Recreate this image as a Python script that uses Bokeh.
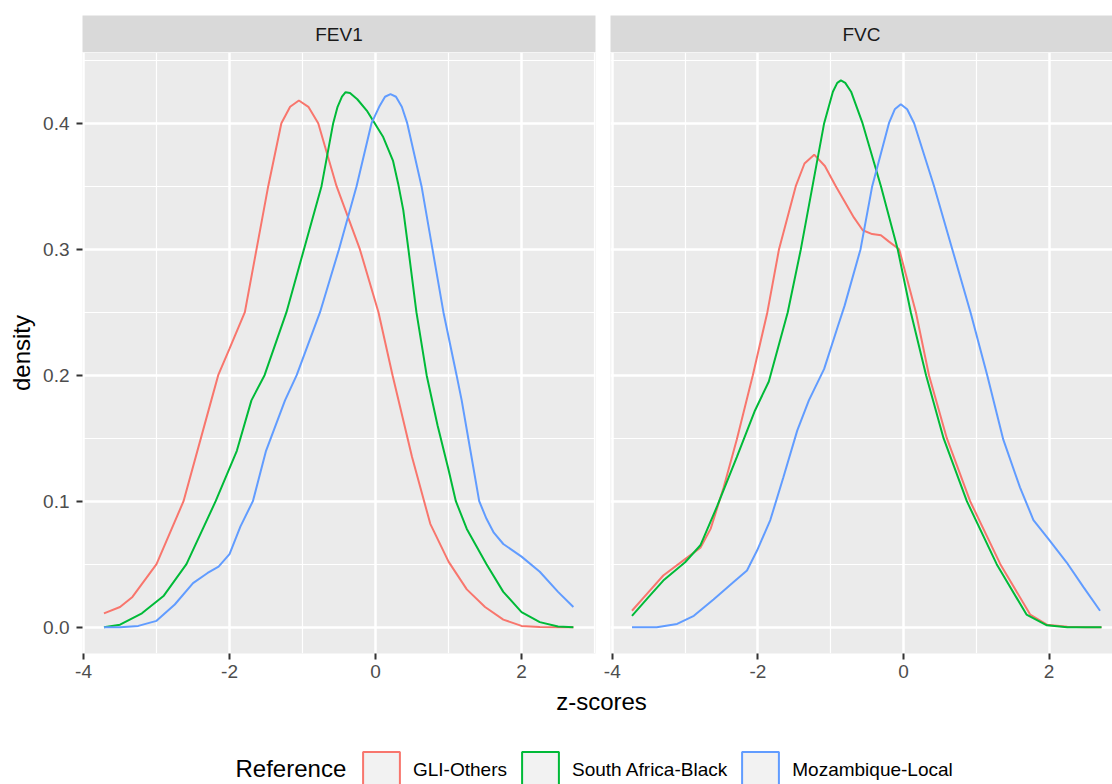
from math import pi
from bokeh.plotting import figure
from bokeh.models import (Range1d, FixedTicker, NumeralTickFormatter, Label,
                          Legend, LegendItem)
from bokeh.layouts import column, row
from bokeh.embed import file_html
from bokeh.resources import INLINE

FONT = "Liberation Sans"

panel_names = ["FEV1", "FVC"]
reference_names = ["GLI-Others", "South Africa-Black", "Mozambique-Local"]
reference_colors = ["#F8766D", "#00BA38", "#619CFF"]
legend_title = "Reference"
x_title = "z-scores"
y_title = "density"

x_ticks = [-4, -2, 0, 2]
x_minor = [-3, -1, 1, 3]
y_ticks = [0.0, 0.1, 0.2, 0.3, 0.4]
y_minor = [0.05, 0.15, 0.25, 0.35, 0.45]

# ---- FEV1 panel (density curves) ----
fev1_gli_z = [-3.72, -3.5, -3.33, -3.0, -2.63, -2.25, -2.155, -2.0, -1.79, -1.63, -1.47,
              -1.29, -1.17, -1.05, -0.92, -0.785, -0.534, -0.215, 0.04, 0.233, 0.5,
              0.75, 1.0, 1.25, 1.5, 1.75, 2.0, 2.25, 2.5, 2.71]
fev1_gli_d = [0.011, 0.016, 0.024, 0.05, 0.10, 0.18, 0.20, 0.221, 0.25, 0.30, 0.35,
              0.40, 0.413, 0.418, 0.413, 0.40, 0.35, 0.30, 0.25, 0.20, 0.135,
              0.082, 0.052, 0.03, 0.016, 0.006, 0.001, 0.0002, 0.0, 0.0]

fev1_sab_z = [-3.72, -3.5, -3.2, -2.9, -2.59, -2.19, -1.9, -1.70, -1.52, -1.22, -0.98,
              -0.74, -0.58, -0.52, -0.46, -0.41, -0.35, -0.25, -0.12, 0.105, 0.24, 0.31,
              0.38, 0.45, 0.56, 0.70, 0.85, 1.0, 1.10, 1.25, 1.52, 1.75, 2.0, 2.25, 2.5, 2.71]
fev1_sab_d = [0.0, 0.002, 0.011, 0.025, 0.05, 0.10, 0.14, 0.18, 0.20, 0.25, 0.30,
              0.35, 0.40, 0.413, 0.421, 0.4246, 0.424, 0.419, 0.41, 0.389, 0.37, 0.352,
              0.331, 0.30, 0.25, 0.20, 0.16, 0.125, 0.10, 0.078, 0.05, 0.028, 0.012, 0.004,
              0.0005, 0.0]

fev1_moz_z = [-3.72, -3.5, -3.25, -3.0, -2.75, -2.5, -2.3, -2.15, -2.0, -1.85, -1.68,
              -1.5, -1.24, -1.08, -0.76, -0.50, -0.26, -0.055, 0.05, 0.13, 0.205, 0.28,
              0.36, 0.434, 0.63, 0.78, 0.93, 1.11, 1.18, 1.30, 1.42, 1.52, 1.62, 1.75,
              2.0, 2.25, 2.5, 2.71]
fev1_moz_d = [0.0, 0.0, 0.001, 0.005, 0.018, 0.035, 0.043, 0.048, 0.058, 0.08, 0.10,
              0.14, 0.18, 0.20, 0.25, 0.30, 0.35, 0.40, 0.413, 0.421, 0.423, 0.421,
              0.413, 0.40, 0.35, 0.30, 0.25, 0.20, 0.18, 0.14, 0.10, 0.086, 0.075, 0.066,
              0.056, 0.044, 0.028, 0.016]

# ---- FVC panel ----
fvc_gli_z = [-3.73, -3.5, -3.30, -3.0, -2.79, -2.65, -2.47, -2.29, -2.07, -1.87, -1.71,
             -1.48, -1.36, -1.227, -1.08, -0.93, -0.68, -0.56, -0.43, -0.31, -0.2,
             -0.06, 0.17, 0.35, 0.595, 0.915, 1.33, 1.74, 1.97, 2.25, 2.5, 2.72]
fvc_gli_d = [0.013, 0.028, 0.041, 0.054, 0.063, 0.078, 0.111, 0.149, 0.20, 0.25, 0.30,
             0.35, 0.368, 0.375, 0.366, 0.35, 0.325, 0.315, 0.312, 0.311, 0.306,
             0.30, 0.25, 0.20, 0.15, 0.10, 0.05, 0.01, 0.002, 0.0003, 0.0, 0.0]

fvc_sab_z = [-3.73, -3.5, -3.30, -3.0, -2.79, -2.56, -2.29, -2.04, -1.85, -1.59, -1.41,
             -1.25, -1.09, -0.97, -0.91, -0.86, -0.80, -0.72, -0.563, -0.31, -0.08, 0.10,
             0.31, 0.55, 0.87, 1.28, 1.69, 1.97, 2.25, 2.5, 2.72]
fvc_sab_d = [0.009, 0.024, 0.037, 0.0515, 0.065, 0.096, 0.135, 0.172, 0.195, 0.25, 0.30,
             0.35, 0.40, 0.425, 0.432, 0.434, 0.432, 0.425, 0.40, 0.35, 0.30, 0.25,
             0.20, 0.15, 0.10, 0.05, 0.01, 0.0015, 0.0, 0.0, 0.0]

fvc_moz_z = [-3.73, -3.39, -3.11, -2.88, -2.61, -2.33, -2.15, -2.01, -1.83, -1.65, -1.46,
             -1.30, -1.09, -0.906, -0.81, -0.59, -0.43, -0.20, -0.12, -0.037, 0.05,
             0.146, 0.42, 0.67, 0.92, 1.15, 1.37, 1.60, 1.785, 1.99, 2.24, 2.47, 2.70]
fvc_moz_d = [0.0, 0.0, 0.0026, 0.009, 0.022, 0.036, 0.045, 0.061, 0.085, 0.119, 0.156,
             0.18, 0.205, 0.238, 0.255, 0.30, 0.35, 0.40, 0.411, 0.415, 0.411,
             0.40, 0.35, 0.30, 0.25, 0.20, 0.149, 0.111, 0.085, 0.070, 0.0515, 0.032, 0.013]

panel_series = [
    [(fev1_gli_z, fev1_gli_d), (fev1_sab_z, fev1_sab_d), (fev1_moz_z, fev1_moz_d)],
    [(fvc_gli_z, fvc_gli_d), (fvc_sab_z, fvc_sab_d), (fvc_moz_z, fvc_moz_d)],
]

Y_RANGE = (-0.0209, 0.4561)
X_RANGES = [(-4.014, 3.013), (-4.025, 2.871)]
FRAME_W = [513, 502]
BORDER_L = [82, 10]
BORDER_R = [5, 0]
STRIP_H = 37
PANEL_H = 601
PAGE_W = 1112
PAGE_H = 784


def make_panel(i):
    name = panel_names[i]
    strip = figure(frame_width=FRAME_W[i], frame_height=STRIP_H,
                   min_border_left=BORDER_L[i], min_border_right=BORDER_R[i],
                   min_border_top=15, min_border_bottom=0,
                   x_range=Range1d(0, 1), y_range=Range1d(0, 1),
                   x_axis_location=None, y_axis_location=None,
                   toolbar_location=None, output_backend="svg",
                   background_fill_color="#d9d9d9", border_fill_color="white",
                   outline_line_color=None)
    strip.grid.visible = False
    strip.add_layout(Label(x=0.5, y=0.5, text=name, text_align="center",
                           text_baseline="middle", text_font=FONT,
                           text_font_size="19px", text_color="#1a1a1a"))

    p = figure(frame_width=FRAME_W[i], frame_height=PANEL_H,
               min_border_left=BORDER_L[i], min_border_right=BORDER_R[i],
               min_border_top=0, min_border_bottom=34,
               x_range=Range1d(*X_RANGES[i]), y_range=Range1d(*Y_RANGE),
               y_axis_location="left" if i == 0 else None,
               toolbar_location=None, output_backend="svg",
               background_fill_color="#ebebeb", border_fill_color="white",
               outline_line_color=None)

    xt = FixedTicker(ticks=x_ticks, minor_ticks=x_minor)
    yt = FixedTicker(ticks=y_ticks, minor_ticks=y_minor)
    p.xaxis.ticker = xt
    p.xgrid.ticker = xt
    p.ygrid.ticker = yt
    p.xaxis.formatter = NumeralTickFormatter(format="0")
    axes = list(p.xaxis)
    if i == 0:
        p.yaxis.ticker = yt
        p.yaxis.formatter = NumeralTickFormatter(format="0.0")
        p.yaxis.axis_label = y_title
        p.yaxis.axis_label_text_font = FONT
        p.yaxis.axis_label_text_font_size = "24px"
        p.yaxis.axis_label_text_font_style = "normal"
        p.yaxis.axis_label_text_color = "black"
        p.yaxis.axis_label_standoff = 5
        axes += list(p.yaxis)
    for ax in axes:
        ax.axis_line_color = None
        ax.major_tick_line_color = "#333333"
        ax.major_tick_line_width = 2
        ax.major_tick_out = 6
        ax.major_tick_in = 0
        ax.minor_tick_line_color = None
        ax.major_label_text_font = FONT
        ax.major_label_text_font_size = "19px"
        ax.major_label_text_color = "#4d4d4d"
    p.xaxis.major_label_standoff = 5
    if i == 0:
        p.yaxis.major_label_standoff = 7

    for g in (p.xgrid, p.ygrid):
        g.grid_line_color = "white"
        g.grid_line_width = 2.5
        g.minor_grid_line_color = "white"
        g.minor_grid_line_width = 1.2

    for (zs, ds), color in zip(panel_series[i], reference_colors):
        p.line(x=zs, y=ds, line_color=color, line_width=2)
    return column(strip, p)


left = make_panel(0)
right = make_panel(1)

LF_H = PAGE_H - (15 + STRIP_H + PANEL_H + 34)
lf = figure(width=PAGE_W, height=LF_H, x_range=Range1d(0, PAGE_W), y_range=Range1d(0, LF_H),
            x_axis_location=None, y_axis_location=None, min_border=0,
            outline_line_color=None, toolbar_location=None, output_backend="svg",
            border_fill_color="white", background_fill_color="white")
lf.grid.visible = False
lf.add_layout(Label(x=601, y=PAGE_H - 701, text=x_title, text_align="center",
                    text_baseline="middle", text_font=FONT, text_font_size="24px",
                    text_color="black"))
lf.add_layout(Label(x=235, y=PAGE_H - 768, text=legend_title, text_align="left",
                    text_baseline="middle", text_font=FONT, text_font_size="24px",
                    text_color="black"))
nan = float("nan")
items = []
for name, color in zip(reference_names, reference_colors):
    r = lf.quad(left=[nan], right=[nan], top=[nan], bottom=[nan], fill_color="#f2f2f2",
                line_color=color, line_width=2)
    items.append(LegendItem(label=name, renderers=[r]))
legend = Legend(items=items, orientation="horizontal", location=(358, PAGE_H - 793),
                glyph_width=46, glyph_height=46, label_standoff=9, spacing=10,
                padding=0, margin=0, label_text_font=FONT,
                label_text_font_size="19px", label_text_color="black",
                background_fill_alpha=0, border_line_alpha=0)
lf.add_layout(legend)

layout = column(row(left, right), lf)

open("out.html", "w").write(file_html(layout, INLINE))
